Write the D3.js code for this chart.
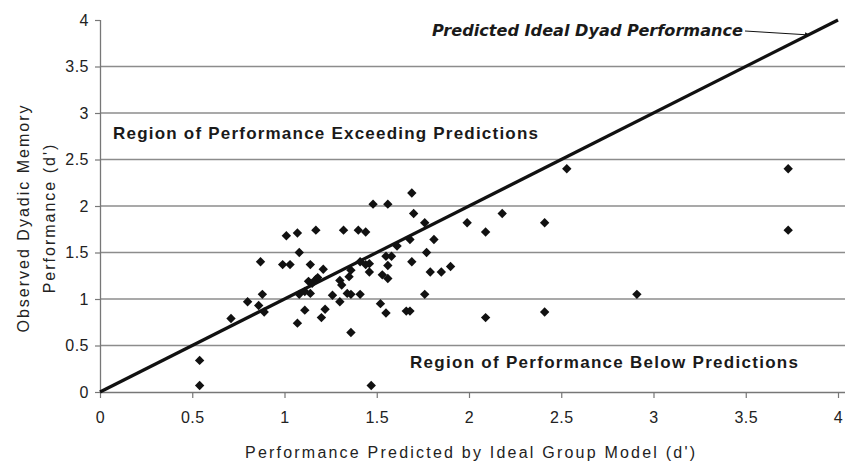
<!DOCTYPE html>
<html><head><meta charset="utf-8">
<script src="https://cdn.jsdelivr.net/npm/d3@7/dist/d3.min.js"></script>
<style>body{margin:0;background:#fff}svg{display:block}</style>
</head><body><svg id="c" width="845" height="465"></svg>
<script>
// Data: x = performance predicted by ideal group model (d'), y = observed dyadic performance (d')
const predicted = [0.54,0.54,1.47,0.71,0.80,0.86,0.88,0.89,0.87,0.99,1.03,1.01,1.07,1.08,
  1.07,1.08,1.11,1.14,1.14,1.11,1.13,1.15,1.17,1.18,1.17,1.20,1.21,1.22,1.26,1.30,
  1.30,1.31,1.32,1.34,1.36,1.36,1.36,1.35,1.40,1.41,1.41,1.44,1.46,1.46,1.48,1.44,
  1.52,1.53,1.55,1.56,1.56,1.55,1.56,1.58,1.61,1.66,1.68,1.68,1.69,1.69,1.70,
  1.76,1.77,1.76,1.79,1.81,1.85,1.90,1.99,2.09,2.09,2.18,2.41,2.41,2.53,2.91,3.73,3.73];
const observed = [0.34,0.07,0.07,0.79,0.97,0.93,1.05,0.86,1.40,1.37,1.37,1.68,1.71,1.50,
  0.74,1.05,0.88,1.37,1.06,1.08,1.19,1.17,1.21,1.23,1.74,0.80,1.32,0.89,1.04,0.97,
  1.20,1.15,1.74,1.06,0.64,1.05,1.31,1.24,1.74,1.40,1.05,1.72,1.38,1.29,2.02,1.37,
  0.95,1.26,1.46,2.02,1.36,0.85,1.22,1.46,1.57,0.87,0.87,1.64,1.40,2.14,1.92,
  1.05,1.50,1.82,1.29,1.64,1.29,1.35,1.82,0.80,1.72,1.92,1.82,0.86,2.40,1.05,2.40,1.74];
const xTickValues = [0,0.5,1,1.5,2,2.5,3,3.5,4];
const yTickValues = [0,0.5,1,1.5,2,2.5,3,3.5,4];
const gridValues = [0.5,1,1.5,2,2.5,3,3.5];
const idealLine = [[0,0],[4,4]];
const xTitle = "Performance Predicted by Ideal Group Model (d')";
const yTitleLines = ["Observed Dyadic Memory","Performance (d')"];
const lineLabel = "Predicted Ideal Dyad Performance";
const regionAbove = "Region of Performance Exceeding Predictions";
const regionBelow = "Region of Performance Below Predictions";

const svg = d3.select("#c");
const x = d3.scaleLinear().domain([0,4]).range([100,838]);
const y = d3.scaleLinear().domain([0,4]).range([392,20]);
const fmt = d => String(d);

// gridlines
svg.append("g").selectAll("line").data(gridValues).join("line")
  .attr("x1", x(0)).attr("x2", 845)
  .attr("y1", d => y(d)).attr("y2", d => y(d))
  .attr("stroke", "#8c8c8c").attr("stroke-width", 1.3);

// x axis
const gx = svg.append("g").attr("transform", `translate(0,${y(0)})`)
  .call(d3.axisBottom(x).tickValues(xTickValues).tickFormat(fmt).tickSize(6).tickPadding(14));
gx.select(".domain").attr("stroke", "#777").attr("stroke-width", 1.3).attr("d", `M${x(0)},0.5H845`);
gx.selectAll(".tick line").attr("stroke", "#777").attr("stroke-width", 1.2);
gx.selectAll("text").attr("font-family", "'Liberation Sans', Arial, sans-serif")
  .attr("font-size", 16).attr("fill", "#222").attr("letter-spacing", 0.5);

// y axis
const gy = svg.append("g").attr("transform", `translate(${x(0)},0)`)
  .call(d3.axisLeft(y).tickValues(yTickValues).tickFormat(fmt).tickSize(5).tickPadding(6));
gy.select(".domain").attr("stroke", "#777").attr("stroke-width", 1.3).attr("d", `M0.5,${y(4)}V${y(0)}`);
gy.selectAll(".tick line").attr("stroke", "#777").attr("stroke-width", 1.2);
gy.selectAll("text").attr("font-family", "'Liberation Sans', Arial, sans-serif")
  .attr("font-size", 16).attr("fill", "#222").attr("letter-spacing", 0.5);

// ideal line
svg.append("path").datum(idealLine)
  .attr("d", d3.line().x(d => x(d[0])).y(d => y(d[1])))
  .attr("stroke", "#111").attr("stroke-width", 3.2).attr("fill", "none");

// points
const pts = predicted.map((p, i) => [p, observed[i]]);
svg.append("g").selectAll("path").data(pts).join("path")
  .attr("d", d3.symbol(d3.symbolSquare, 44)())
  .attr("transform", d => `translate(${x(d[0])},${y(d[1])}) rotate(45)`)
  .attr("fill", "#111");

// region labels
svg.append("text").attr("x", 113).attr("y", 139).text(regionAbove)
  .attr("font-family", "'Liberation Sans', Arial, sans-serif").attr("font-weight", "bold")
  .attr("font-size", 17).attr("fill", "#1a1a1a").attr("textLength", 425).attr("lengthAdjust", "spacing");
svg.append("text").attr("x", 410).attr("y", 368).text(regionBelow)
  .attr("font-family", "'Liberation Sans', Arial, sans-serif").attr("font-weight", "bold")
  .attr("font-size", 17).attr("fill", "#1a1a1a").attr("textLength", 388).attr("lengthAdjust", "spacing");

// line label with arrow
svg.append("defs").append("marker").attr("id", "ah").attr("viewBox", "0 0 10 10")
  .attr("refX", 10).attr("refY", 5).attr("markerWidth", 6).attr("markerHeight", 5).attr("orient", "auto")
  .append("path").attr("d", "M0,0L10,5L0,10Z").attr("fill", "#111");
svg.append("text").attr("x", 432).attr("y", 36).text(lineLabel)
  .attr("font-family", "'DejaVu Sans', Verdana, sans-serif").attr("font-weight", "bold").attr("font-style", "italic")
  .attr("font-size", 15).attr("fill", "#1a1a1a").attr("textLength", 311).attr("lengthAdjust", "spacingAndGlyphs");
svg.append("line").attr("x1", 745).attr("y1", 31).attr("x2", 810).attr("y2", 35)
  .attr("stroke", "#111").attr("stroke-width", 1).attr("marker-end", "url(#ah)");

// axis titles
svg.append("text").attr("x", 470).attr("y", 458).attr("text-anchor", "middle").text(xTitle)
  .attr("font-family", "'Liberation Sans', Arial, sans-serif").attr("font-size", 16)
  .attr("fill", "#222").attr("textLength", 450).attr("lengthAdjust", "spacing");
const yt = svg.append("g").attr("transform", "translate(0,218) rotate(-90)");
yTitleLines.forEach((t, i) => {
  yt.append("text").attr("x", 0).attr("y", 29 + i * 26).attr("text-anchor", "middle").text(t)
    .attr("font-family", "'Liberation Sans', Arial, sans-serif").attr("font-size", 16)
    .attr("fill", "#222").attr("letter-spacing", 2.0);
});
</script></body></html>
